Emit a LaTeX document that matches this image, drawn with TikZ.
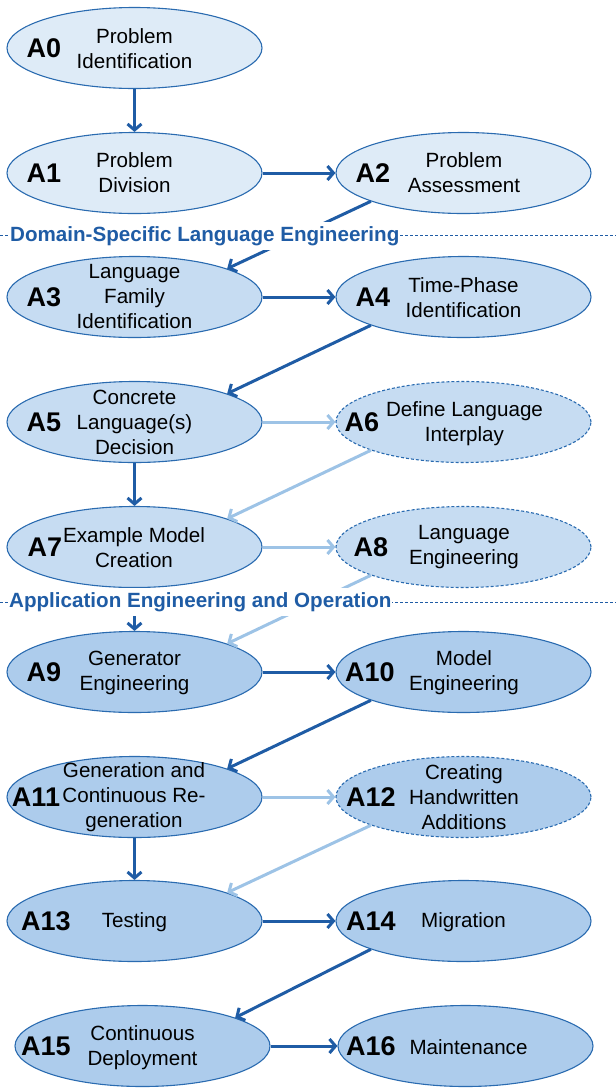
\documentclass[tikz,border=0pt]{standalone}
\usepackage{fontspec}
\setmainfont{Liberation Sans}
\usetikzlibrary{shapes.geometric,arrows.meta}
\definecolor{fillA}{HTML}{DEEBF7}
\definecolor{fillB}{HTML}{C6DCF2}
\definecolor{fillC}{HTML}{ADCCEC}
\definecolor{edgeblue}{HTML}{2A6BB0}
\definecolor{darkarrow}{HTML}{1F5CA5}
\definecolor{lightarrow}{HTML}{9DC3E6}
\definecolor{headblue}{HTML}{1F5CA5}
\tikzset{
  act/.style={ellipse, draw=edgeblue, line width=1.1pt, minimum width=255pt, minimum height=81pt, inner sep=0pt},
  actdash/.style={act, dashed, dash pattern=on 3pt off 2pt},
  maintxt/.style={align=center, font=\fontsize{20.6}{25}\selectfont, inner sep=0pt},
  idlbl/.style={font=\fontsize{27}{29}\selectfont\bfseries, inner sep=0pt},
  darr/.style={draw=darkarrow, line width=3pt, -{Straight Barb[length=6pt,width=14pt,line width=3pt]}},
  larr/.style={draw=lightarrow, line width=3pt, -{Straight Barb[length=6pt,width=14pt,line width=3pt]}},
  headtxt/.style={font=\fontsize{20.6}{24}\selectfont\bfseries, text=headblue, fill=white, inner xsep=1pt, inner ysep=4pt, anchor=west},
  secline/.style={draw=headblue, line width=0.7pt, dash pattern=on 3pt off 2pt}
}
\begin{document}
\begin{tikzpicture}[x=1pt,y=-1pt]
\useasboundingbox (0,0) rectangle (616,1088);
% ellipses
\node[act, fill=fillA] (A0) at (134.5,48) {};
\node[act, fill=fillA] (A1) at (134.5,173) {};
\node[act, fill=fillA] (A2) at (463.5,173) {};
\node[act, fill=fillB] (A3) at (134.5,297) {};
\node[act, fill=fillB] (A4) at (463.5,297) {};
\node[act, fill=fillB] (A5) at (134.5,422) {};
\node[actdash, fill=fillB] (A6) at (463.5,422) {};
\node[act, fill=fillB] (A7) at (134.5,547) {};
\node[actdash, fill=fillB] (A8) at (463.5,547) {};
\node[act, fill=fillC] (A9) at (134.5,672) {};
\node[act, fill=fillC] (A10) at (463.5,672) {};
\node[act, fill=fillC] (A11) at (134.5,797) {};
\node[actdash, fill=fillC] (A12) at (463.5,797) {};
\node[act, fill=fillC] (A13) at (134.5,921) {};
\node[act, fill=fillC] (A14) at (463.5,921) {};
\node[act, fill=fillC] (A15) at (142.5,1046) {};
\node[act, fill=fillC] (A16) at (465.5,1046) {};
% main texts
\node[maintxt] (T0) at (134.5,48.5) {Problem\\Identification};
\node[maintxt] (T1) at (134.5,173) {Problem\\Division};
\node[maintxt] (T2) at (464,173) {Problem\\Assessment};
\node[maintxt] (T3) at (134.5,297) {Language\\Family\\Identification};
\node[maintxt] (T4) at (463.5,298) {Time-Phase\\Identification};
\node[maintxt] (T5) at (134.5,422) {Concrete\\Language(s)\\Decision};
\node[maintxt] (T6) at (464.5,423.5) {Define Language\\Interplay};
\node[maintxt] (T7) at (134,547.5) {Example Model\\Creation};
\node[maintxt] (T8) at (464,547.5) {Language\\Engineering};
\node[maintxt] (T9) at (134.5,672.5) {Generator\\Engineering};
\node[maintxt] (T10) at (464,672.5) {Model\\Engineering};
\node[maintxt] (T11) at (134,797) {Generation and\\Continuous Re-\\generation};
\node[maintxt] (T12) at (464,797) {Creating\\Handwritten\\Additions};
\node[maintxt] (T13) at (134.5,922) {Testing};
\node[maintxt] (T14) at (463.5,922) {Migration};
\node[maintxt] (T15) at (142.5,1047.5) {Continuous\\Deployment};
\node[maintxt] (T16) at (468.5,1047) {Maintenance};
% id labels
\node[idlbl] (L0) at (44,48) {A0};
\node[idlbl] (L1) at (44,173) {A1};
\node[idlbl] (L2) at (373,173) {A2};
\node[idlbl] (L3) at (44,297) {A3};
\node[idlbl] (L4) at (373,297) {A4};
\node[idlbl] (L5) at (44,422) {A5};
\node[idlbl] (L6) at (362,422) {A6};
\node[idlbl] (L7) at (45,547) {A7};
\node[idlbl] (L8) at (371,547) {A8};
\node[idlbl] (L9) at (44,672) {A9};
\node[idlbl] (L10) at (370,672) {A10};
\node[idlbl] (L11) at (36,797) {A11};
\node[idlbl] (L12) at (371,797) {A12};
\node[idlbl] (L13) at (46,921) {A13};
\node[idlbl] (L14) at (371,921) {A14};
\node[idlbl] (L15) at (46,1046) {A15};
\node[idlbl] (L16) at (371,1046) {A16};
% connectors
\draw[darr] (A0.south) -- (A1.north);
\draw[darr] (A1.east) -- (A2.west);
\draw[darr] (A2.197) -- (A3.17);
\draw[darr] (A3.east) -- (A4.west);
\draw[darr] (A4.197) -- (A5.17);
\draw[larr] (A5.east) -- (A6.west);
\draw[darr] (A5.south) -- (A7.north);
\draw[larr] (A6.197) -- (A7.17);
\draw[larr] (A7.east) -- (A8.west);
\draw[darr] (A7.south) -- (A9.north);
\draw[larr] (A8.197) -- (A9.17);
\draw[darr] (A9.east) -- (A10.west);
\draw[darr] (A10.197) -- (A11.17);
\draw[larr] (A11.east) -- (A12.west);
\draw[darr] (A11.south) -- (A13.north);
\draw[larr] (A12.197) -- (A13.17);
\draw[darr] (A13.east) -- (A14.west);
\draw[darr] (A14.197) -- (A15.17);
\draw[darr] (A15.east) -- (A16.west);
% section headings
\coordinate (S1l) at (0,235.5);
\coordinate (S1r) at (616,235.5);
\draw[secline] (S1l) -- (S1r);
\node[headtxt] (H1) at (9,236) {Domain-Specific Language Engineering};
\coordinate (S2l) at (0,602.5);
\coordinate (S2r) at (616,602.5);
\draw[secline] (S2l) -- (S2r);
\node[headtxt] (H2) at (8,602) {Application Engineering and Operation};
\end{tikzpicture}
\end{document}
